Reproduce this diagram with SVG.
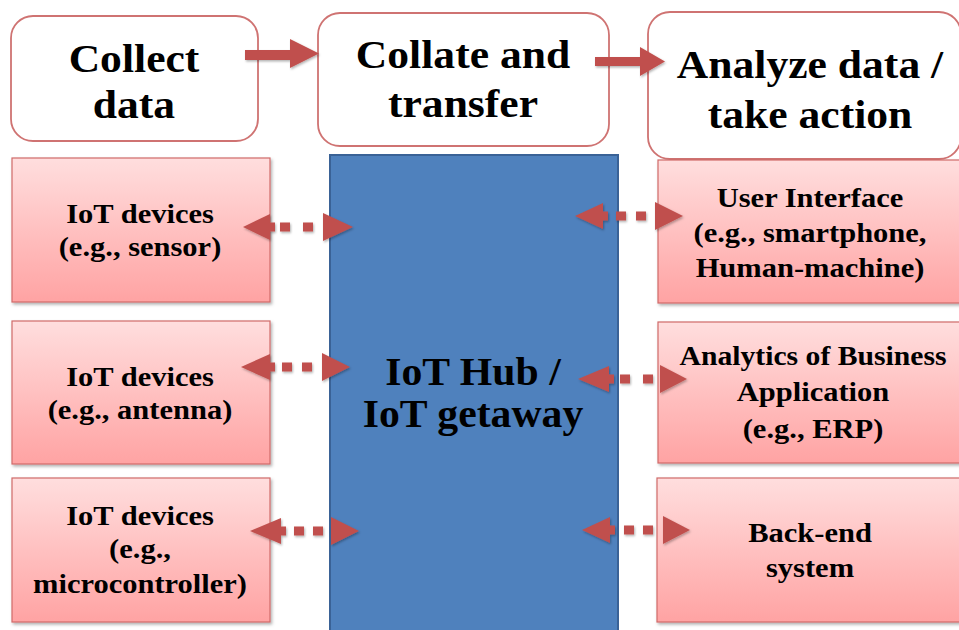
<svg xmlns="http://www.w3.org/2000/svg" width="959" height="630" viewBox="0 0 959 630">
<style>
.t{font-family:"Liberation Serif","Times New Roman",serif;font-weight:bold;fill:#000;text-anchor:middle}
.big{font-size:40px}
.hub{font-size:39px}
.sm{font-size:28px}
.top{fill:#fff;stroke:#CF7372;stroke-width:1.8}
.pink{fill:url(#pg);stroke:#D06B69;stroke-width:1.2;filter:url(#sh)}
.ar{fill:#C0504D}
</style>
<defs>
<linearGradient id="pg" x1="0" y1="0" x2="0" y2="1">
<stop offset="0" stop-color="#FFDEDE"/>
<stop offset="1" stop-color="#FFA3A3"/>
</linearGradient>
<filter id="sh" x="-10%" y="-10%" width="125%" height="125%">
<feDropShadow dx="1.5" dy="2" stdDeviation="1.5" flood-color="#000" flood-opacity="0.3"/>
</filter>
<filter id="ash" x="-20%" y="-30%" width="150%" height="170%">
<feDropShadow dx="1" dy="1.5" stdDeviation="1.2" flood-color="#000" flood-opacity="0.3"/>
</filter>
</defs>
<rect width="959" height="630" fill="#fff"/>

<g id="collect">
<rect class="top" x="11" y="16" width="247" height="125" rx="22"/>
<text class="t big" transform="translate(134 0) scale(1.09 1)" x="0" y="72">Collect</text>
<text class="t big" transform="translate(134 0) scale(1.09 1)" x="0" y="118">data</text>
</g>
<g id="collate">
<rect class="top" x="318" y="13" width="291" height="133" rx="22"/>
<text class="t big" transform="translate(463 0) scale(1.09 1)" x="0" y="68">Collate and</text>
<text class="t big" transform="translate(463 0) scale(1.09 1)" x="0" y="117">transfer</text>
</g>
<g id="analyze">
<rect class="top" x="648" y="12" width="313" height="147" rx="22"/>
<text class="t big" transform="translate(810 0) scale(1.09 1)" x="0" y="78">Analyze data /</text>
<text class="t big" transform="translate(810 0) scale(1.09 1)" x="0" y="128">take action</text>
</g>

<g id="hub">
<rect x="330" y="155" width="288" height="490" fill="#4F81BD" stroke="#3A6296" stroke-width="2"/>
<text class="t hub" transform="translate(473 0) scale(1.07 1)" x="0" y="385">IoT Hub /</text>
<text class="t hub" transform="translate(473 0) scale(1.07 1)" x="0" y="427">IoT getaway</text>
</g>

<g id="dev-sensor">
<rect class="pink" x="12" y="158" width="258" height="144"/>
<text class="t sm" transform="translate(140 0) scale(1.09 1)" x="0" y="223">IoT devices</text>
<text class="t sm" transform="translate(140 0) scale(1.09 1)" x="0" y="256">(e.g., sensor)</text>
</g>
<g id="dev-antenna">
<rect class="pink" x="12" y="321" width="258" height="143"/>
<text class="t sm" transform="translate(140 0) scale(1.09 1)" x="0" y="386">IoT devices</text>
<text class="t sm" transform="translate(140 0) scale(1.09 1)" x="0" y="419">(e.g., antenna)</text>
</g>
<g id="dev-micro">
<rect class="pink" x="12" y="478" width="258" height="144"/>
<text class="t sm" transform="translate(140 0) scale(1.09 1)" x="0" y="525">IoT devices</text>
<text class="t sm" transform="translate(140 0) scale(1.09 1)" x="0" y="558">(e.g.,</text>
<text class="t sm" transform="translate(140 0) scale(1.09 1)" x="0" y="593">microcontroller)</text>
</g>

<g id="ui">
<rect class="pink" x="658" y="160" width="310" height="143"/>
<text class="t sm" transform="translate(810 0) scale(1.09 1)" x="0" y="207">User Interface</text>
<text class="t sm" transform="translate(810 0) scale(1.09 1)" x="0" y="242">(e.g., smartphone,</text>
<text class="t sm" transform="translate(810 0) scale(1.09 1)" x="0" y="277">Human-machine)</text>
</g>
<g id="analytics">
<rect class="pink" x="658" y="322" width="310" height="141"/>
<text class="t sm" transform="translate(813 0) scale(1.06 1)" x="0" y="365">Analytics of Business</text>
<text class="t sm" transform="translate(813 0) scale(1.09 1)" x="0" y="401">Application</text>
<text class="t sm" transform="translate(813 0) scale(1.09 1)" x="0" y="438">(e.g., ERP)</text>
</g>
<g id="backend">
<rect class="pink" x="657" y="478" width="311" height="144"/>
<text class="t sm" transform="translate(810 0) scale(1.09 1)" x="0" y="542">Back-end</text>
<text class="t sm" transform="translate(810 0) scale(1.09 1)" x="0" y="577">system</text>
</g>

<g id="connectors" class="ar" filter="url(#ash)">
<polygon points="245,50 290,50 290,39 319,53.5 290,68 290,60 245,60"/>
<polygon points="595,57 640,57 640,47 665,61.5 640,76 640,66 595,66"/>

<g>
<polygon points="243,227 270,214 270,240"/><rect x="269" y="222.5" width="6" height="9"/>
<rect x="280" y="222.5" width="10" height="9"/><rect x="303" y="222.5" width="10" height="9"/>
<polygon points="353,227 323,213 323,241"/>
</g>
<g>
<polygon points="241,367 270,354 270,380"/><rect x="269" y="362.5" width="6" height="9"/>
<rect x="282" y="362.5" width="10" height="9"/><rect x="302" y="362.5" width="10" height="9"/>
<polygon points="350,367 322,353 322,381"/>
</g>
<g>
<polygon points="250,531 281,518 281,544"/><rect x="280" y="526.5" width="6" height="9"/>
<rect x="294" y="526.5" width="10" height="9"/><rect x="313" y="526.5" width="10" height="9"/>
<polygon points="359,531 331,517 331,545"/>
</g>
<g>
<polygon points="575,216 603,203 603,229"/><rect x="602" y="211.5" width="6" height="9"/>
<rect x="616" y="211.5" width="10" height="9"/><rect x="636" y="211.5" width="10" height="9"/>
<polygon points="683,216 655,202 655,230"/>
</g>
<g>
<polygon points="578,379 609,366 609,392"/><rect x="608" y="374.5" width="6" height="9"/>
<rect x="620" y="374.5" width="10" height="9"/><rect x="643" y="374.5" width="10" height="9"/>
<polygon points="687,379 660,365 660,393"/>
</g>
<g>
<polygon points="582,530 610,517 610,543"/><rect x="609" y="525.5" width="6" height="9"/>
<rect x="624" y="525.5" width="10" height="9"/><rect x="643" y="525.5" width="10" height="9"/>
<polygon points="690,530 663,516 663,544"/>
</g>
</g>
</svg>
